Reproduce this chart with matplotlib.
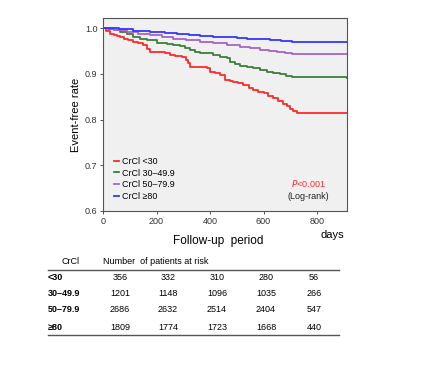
import matplotlib
matplotlib.use("Agg")
import matplotlib.pyplot as plt
from matplotlib.lines import Line2D

W, H = 422, 381

groups = ["CrCl <30", "CrCl 30\u201349.9", "CrCl 50\u201379.9", "CrCl \u226580"]
colors = ["#ff2a2a", "#3c7f3c", "#a565c8", "#3535ff"]

t_red = [0, 10, 26, 40, 52, 64, 80, 95, 113, 130, 151, 165, 176, 213, 230, 250, 270, 294, 310, 319, 325,
         363, 388, 400, 420, 437, 456, 475, 487, 505, 525, 545, 562, 580, 600, 618, 637, 655, 674, 688,
         699, 712, 724, 912]
s_red = [1.0, 0.994, 0.988, 0.985, 0.983, 0.981, 0.977, 0.974, 0.970, 0.967, 0.963, 0.955, 0.948, 0.948,
         0.945, 0.941, 0.939, 0.937, 0.930, 0.923, 0.915, 0.915, 0.912, 0.905, 0.901, 0.897, 0.886, 0.885,
         0.883, 0.879, 0.875, 0.869, 0.864, 0.861, 0.857, 0.852, 0.846, 0.841, 0.835, 0.829, 0.824, 0.819,
         0.815, 0.815]

t_green = [0, 20, 40, 64, 90, 113, 140, 163, 200, 238, 260, 288, 305, 325, 345, 363, 412, 437, 462, 475,
           495, 512, 537, 562, 587, 612, 637, 662, 685, 705, 912]
s_green = [1.0, 0.998, 0.995, 0.992, 0.986, 0.981, 0.977, 0.974, 0.968, 0.965, 0.963, 0.961, 0.956, 0.952,
           0.948, 0.945, 0.941, 0.937, 0.934, 0.926, 0.921, 0.917, 0.914, 0.912, 0.908, 0.905, 0.902, 0.899,
           0.895, 0.892, 0.891]

t_purple = [0, 40, 88, 130, 176, 220, 263, 310, 363, 410, 462, 512, 550, 587, 620, 649, 680, 705, 912]
s_purple = [1.0, 0.996, 0.992, 0.988, 0.985, 0.981, 0.977, 0.974, 0.970, 0.967, 0.963, 0.959, 0.956, 0.953,
            0.950, 0.948, 0.946, 0.944, 0.944]

t_blue = [0, 60, 113, 176, 230, 275, 320, 363, 410, 462, 500, 537, 580, 624, 665, 705, 912]
s_blue = [1.0, 0.997, 0.994, 0.992, 0.990, 0.987, 0.985, 0.983, 0.981, 0.980, 0.978, 0.977, 0.975, 0.974,
          0.972, 0.970, 0.970]

xticks = [0, 200, 400, 600, 800]
yticks = [0.6, 0.7, 0.8, 0.9, 1.0]
ytick_labels = ["0.6", "0.7", "0.8", "0.9", "1.0"]

risk_labels = ["<30", "30\u201349.9", "50\u201379.9", "\u226580"]
risk_values = [
    [356, 332, 310, 280, 56],
    [1201, 1148, 1096, 1035, 266],
    [2686, 2632, 2514, 2404, 547],
    [1809, 1774, 1723, 1668, 440],
]

plt.rcParams['font.family'] = ['Liberation Sans', 'DejaVu Sans']

fig = plt.figure(figsize=(W / 100, H / 100), dpi=100)
fig.patch.set_facecolor("white")

def fx(x):
    return x / W

def fy(y):
    return 1 - y / H

ax = fig.add_axes([fx(103), fy(211), fx(347) - fx(103), fy(18) - fy(211)])
ax.set_facecolor("#f0f0f0")

series = [(t_red, s_red), (t_green, s_green), (t_purple, s_purple), (t_blue, s_blue)]
for (t, s), c in zip(series, colors):
    ax.step(t, s, where="post", color=c, lw=1.3)

ax.set_xlim(0, 912)
ax.set_ylim(0.6, 1.022)
ax.set_xticks(xticks)
ax.set_xticklabels([str(v) for v in xticks])
ax.set_yticks(yticks)
ax.set_yticklabels(ytick_labels)
ax.tick_params(axis="both", labelsize=6.5, length=2.5, width=0.6, pad=1.5, colors="#333333")
for sp in ax.spines.values():
    sp.set_color("#555555")
    sp.set_linewidth(0.8)
ax.set_ylabel("Event-free rate", fontsize=8, labelpad=3)

handles = [Line2D([0], [0], color=c, lw=1.3) for c in colors]
leg = ax.legend(handles, groups, loc="lower left", frameon=False, fontsize=6.4,
                handlelength=0.5, handletextpad=0.4, labelspacing=0.3,
                borderaxespad=0.3, bbox_to_anchor=(0.02, 0.02))

ax.text(0.84, 0.14, "$\\it{P}$<0.001", transform=ax.transAxes, ha="center", va="center",
        fontsize=6.5, color="#ff2a2a")
ax.text(0.84, 0.073, "(Log-rank)", transform=ax.transAxes, ha="center", va="center",
        fontsize=6.5, color="#222222")

fig.text(fx(218), fy(241), "Follow-up  period", ha="center", va="center", fontsize=8.5)
fig.text(fx(332), fy(235), "days", ha="center", va="center", fontsize=8)

# Risk table
fig.text(fx(70), fy(262), "CrCl", ha="center", va="center", fontsize=6.5)
fig.text(fx(103), fy(262), "Number  of patients at risk", ha="left", va="center", fontsize=6.5)
fig.add_artist(Line2D([fx(48), fx(339)], [fy(270), fy(270)], color="#555555", lw=1.0))
fig.add_artist(Line2D([fx(48), fx(339)], [fy(335), fy(335)], color="#555555", lw=1.0))
row_y = [278, 294, 310, 327]
col_x = [120, 168, 217, 266, 314]
for lab, vals, yy in zip(risk_labels, risk_values, row_y):
    fig.text(fx(48), fy(yy), lab, ha="left", va="center", fontsize=6.5, fontweight="bold")
    for v, xx in zip(vals, col_x):
        fig.text(fx(xx), fy(yy), str(v), ha="center", va="center", fontsize=6.5)

fig.savefig("out.png", dpi=100)
